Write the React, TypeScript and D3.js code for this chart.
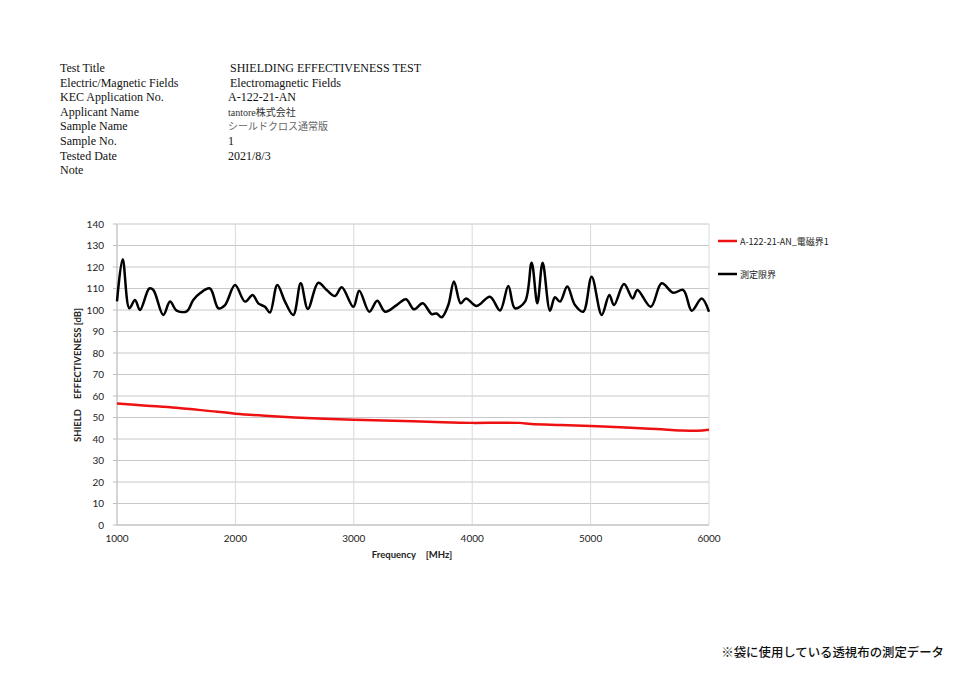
import React from "react";
import * as d3 from "d3";

const headerLabels = ["Test Title", "Electric/Magnetic Fields", "KEC Application No.", "Applicant Name", "Sample Name", "Sample No.", "Tested Date", "Note"];
const headerValues = ["SHIELDING EFFECTIVENESS TEST", "Electromagnetic Fields", "A-122-21-AN", "tantore株式会社", "シールドクロス通常版", "1", "2021/8/3", ""];

const xTicks = [1000, 2000, 3000, 4000, 5000, 6000];
const yTicks = [0, 10, 20, 30, 40, 50, 60, 70, 80, 90, 100, 110, 120, 130, 140];

const seriesNames = ["A-122-21-AN_電磁界1", "測定限界"];

const limitFreq = [1000, 1048, 1104, 1152, 1194, 1273, 1307, 1391, 1448, 1504, 1589, 1644, 1701, 1785, 1856, 1912, 1997, 2081, 2146, 2193, 2250, 2292, 2354, 2419, 2489, 2552, 2612, 2700, 2771, 2841, 2898, 2996, 3046, 3131, 3198, 3264, 3362, 3441, 3508, 3582, 3658, 3700, 3742, 3798, 3846, 3903, 3948, 4038, 4150, 4235, 4305, 4361, 4446, 4502, 4550, 4595, 4657, 4699, 4742, 4803, 4868, 4938, 5009, 5094, 5158, 5198, 5282, 5356, 5395, 5508, 5600, 5698, 5783, 5854, 5938, 6000];
const limitValues = [104, 123.6, 100.8, 104.7, 100, 110, 109.3, 97.7, 103.9, 99.7, 99.4, 104.7, 107.8, 110, 100.8, 102.3, 111.6, 103.9, 107, 103.1, 101.5, 98.8, 111.6, 103.9, 97.7, 112.4, 100.5, 112.7, 109.3, 106.5, 110.6, 101.5, 109, 99.2, 104.3, 99.2, 102.3, 105, 100.3, 103.1, 98.1, 98.4, 96.6, 102.3, 113.2, 103.1, 105.4, 101.9, 106.2, 99.8, 111.2, 100.8, 103.9, 122, 103.1, 122, 99.7, 105.9, 103.9, 110.9, 102.3, 99.2, 115.5, 97.7, 107, 102.3, 112.1, 105.4, 109.3, 101.5, 112.4, 108, 109.3, 99.7, 105.4, 99.2];

const measFreq = [1000, 1250, 1500, 1750, 2000, 2250, 2500, 2750, 3000, 3250, 3500, 3750, 4000, 4250, 4400, 4500, 4750, 5000, 5250, 5500, 5600, 5750, 5900, 6000];
const measValues = [56.5, 55.5, 54.5, 53.2, 51.8, 50.8, 50, 49.4, 49, 48.6, 48.3, 47.8, 47.5, 47.6, 47.5, 47, 46.5, 46, 45.5, 44.8, 44.5, 44, 43.8, 44.3];

export default function App() {
  const left = 117, right = 709, top = 224, bottom = 525;
  const x = d3.scaleLinear().domain([1000, 6000]).range([left, right]);
  const y = d3.scaleLinear().domain([0, 140]).range([bottom, top]);
  const line = d3.line<[number, number]>().x(d => x(d[0])).y(d => y(d[1])).curve(d3.curveCatmullRom.alpha(0.5));
  const limitPts = limitFreq.map((f, i) => [f, limitValues[i]] as [number, number]);
  const measPts = measFreq.map((f, i) => [f, measValues[i]] as [number, number]);
  const sans = "Lato, 'Open Sans', sans-serif";
  return (
    <svg width={960} height={678} style={{ position: "absolute", left: 0, top: 0, background: "#fff" }}>
      <rect width={960} height={678} fill="#fff" />
      <g fontFamily="'Liberation Serif', 'Times New Roman', serif" fontSize={12} fill="#111">
        {headerLabels.map((t, i) => (
          <text key={"l" + i} x={60} y={72 + i * 14.6}>{t}</text>
        ))}
        {headerValues.map((t, i) => (
          <text key={"v" + i} x={i < 2 ? 230 : 228} y={72 + i * 14.6} fontSize={i === 3 || i === 4 ? 10 : 12} fill={i === 4 ? "#666" : i === 3 ? "#333" : "#111"}
            fontFamily={i === 3 || i === 4 ? "'Liberation Serif', 'Noto Sans CJK JP', serif" : undefined}>{t}</text>
        ))}
      </g>
      <g>
        {yTicks.map(t => (
          <line key={"gy" + t} x1={left} x2={right} y1={y(t)} y2={y(t)} stroke="#c8c8c8" strokeWidth={1} />
        ))}
        {xTicks.map(t => (
          <line key={"gx" + t} x1={x(t)} x2={x(t)} y1={top} y2={bottom} stroke="#d9d9d9" strokeWidth={1} />
        ))}
        <line x1={left} x2={left} y1={top} y2={bottom} stroke="#bfbfbf" />
        <line x1={left} x2={right} y1={bottom} y2={bottom} stroke="#bfbfbf" />
        {yTicks.map(t => (
          <line key={"ty" + t} x1={left - 4} x2={left} y1={y(t)} y2={y(t)} stroke="#bfbfbf" />
        ))}
      </g>
      <g fontFamily={sans} fontSize={10} fill="#222">
        {yTicks.map(t => (
          <text key={"yl" + t} x={104} y={y(t) + 3.5} textAnchor="end">{t}</text>
        ))}
        {xTicks.map(t => (
          <text key={"xl" + t} x={x(t)} y={542} textAnchor="middle">{t}</text>
        ))}
        <text x={412} y={558} textAnchor="middle" fontWeight="bold" fontSize={9.5}>Frequency　[MHz]</text>
        <text transform={`translate(81,375) rotate(-90)`} textAnchor="middle" fontWeight="bold" fontSize={9.5}>SHIELD　EFFECTIVENESS [dB]</text>
      </g>
      <path d={line(measPts) || ""} fill="none" stroke="#ee1111" strokeWidth={2.5} />
      <path d={line(limitPts) || ""} fill="none" stroke="#000" strokeWidth={2.5} strokeLinejoin="round" />
      <g fontFamily={sans} fontSize={9} fill="#222">
        <line x1={718} x2={737} y1={241} y2={241} stroke="#ee1111" strokeWidth={2.5} />
        <text x={740} y={244.5} fontFamily="'Noto Sans CJK JP', sans-serif">{seriesNames[0]}</text>
        <line x1={718} x2={737} y1={274} y2={274} stroke="#000" strokeWidth={2.5} />
        <text x={740} y={277.5} fontFamily="'Noto Sans CJK JP', sans-serif">{seriesNames[1]}</text>
      </g>
      <text x={944} y={657} textAnchor="end" fontFamily="'Noto Sans CJK JP', sans-serif" fontSize={12.4} fontWeight={500} fill="#111">※袋に使用している透視布の測定データ</text>
    </svg>
  );
}
